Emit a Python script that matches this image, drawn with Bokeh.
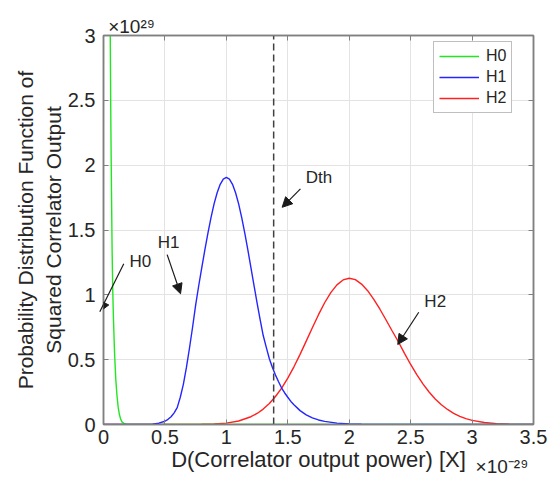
from bokeh.plotting import figure
from bokeh.models import (Range1d, LinearAxis, FixedTicker, Label, Arrow, NormalHead,
                          Legend, LegendItem)
from bokeh.embed import file_html
from bokeh.resources import INLINE

# ---------------- data (x in units of 1e-29, y in units of 1e29) ----------------
h0_x = [0.0, 0.02, 0.04, 0.05, 0.055, 0.06, 0.065, 0.07, 0.075, 0.08, 0.09, 0.10, 0.11,
        0.12, 0.13, 0.14, 0.15, 0.17, 0.19, 0.22, 3.5]
h0_y = [12.0, 8.0, 5.0, 3.6, 3.0, 2.3, 1.8, 1.35, 1.05, 0.85, 0.55, 0.35, 0.22,
        0.13, 0.075, 0.04, 0.02, 0.006, 0.001, 0.0, 0.0]

h1_x = [0.0, 0.35, 0.4, 0.45, 0.5, 0.525, 0.55, 0.575, 0.6, 0.625, 0.65, 0.675, 0.7, 0.725,
        0.75, 0.775, 0.8, 0.825, 0.85, 0.875, 0.9, 0.925, 0.95, 0.975, 1.0, 1.025, 1.05,
        1.075, 1.1, 1.125, 1.15, 1.175, 1.2, 1.225, 1.25, 1.275, 1.3, 1.325, 1.35, 1.375,
        1.4, 1.425, 1.45, 1.475, 1.5, 1.525, 1.55, 1.6, 1.65, 1.7, 1.75, 1.8, 1.9, 2.0,
        2.1, 2.2, 2.4, 3.5]
h1_y = [0.0, 0.0, 0.003, 0.01, 0.025, 0.04, 0.06, 0.09, 0.13, 0.21, 0.31, 0.44, 0.59, 0.75,
        0.92, 1.07, 1.21, 1.346, 1.476, 1.596, 1.701, 1.787, 1.852, 1.892, 1.905, 1.892,
        1.852, 1.787, 1.701, 1.596, 1.476, 1.346, 1.21, 1.073, 0.938, 0.808, 0.686, 0.595,
        0.507, 0.44, 0.381, 0.33, 0.281, 0.243, 0.21, 0.178, 0.153, 0.107, 0.074, 0.051,
        0.035, 0.024, 0.011, 0.005, 0.002, 0.0008, 0.0, 0.0]

h2_x = [0.0, 0.7, 0.8, 0.9, 1.0, 1.1, 1.2, 1.25, 1.3, 1.35, 1.4, 1.45, 1.5, 1.55, 1.6, 1.65,
        1.7, 1.75, 1.8, 1.85, 1.9, 1.95, 2.0, 2.05, 2.1, 2.15, 2.2, 2.25, 2.3, 2.35, 2.4,
        2.45, 2.5, 2.55, 2.6, 2.65, 2.7, 2.75, 2.8, 2.85, 2.9, 2.95, 3.0, 3.1, 3.2, 3.3,
        3.4, 3.5]
h2_y = [0.0, 0.0, 0.0015, 0.004, 0.011, 0.027, 0.06, 0.085, 0.119, 0.162, 0.216, 0.281,
        0.358, 0.445, 0.541, 0.643, 0.746, 0.847, 0.939, 1.017, 1.077, 1.115, 1.128, 1.117,
        1.083, 1.032, 0.965, 0.889, 0.806, 0.721, 0.638, 0.549, 0.463, 0.384, 0.313, 0.251,
        0.197, 0.152, 0.116, 0.086, 0.063, 0.045, 0.032, 0.015, 0.0067, 0.0028, 0.001,
        0.0004]

dth = 1.385
dth_x = [dth, dth]
dth_y = [0.0, 3.0]

x_ticks = [0, 0.5, 1, 1.5, 2, 2.5, 3, 3.5]
x_tick_labels = ["0", "0.5", "1", "1.5", "2", "2.5", "3", "3.5"]
y_ticks = [0, 0.5, 1, 1.5, 2, 2.5, 3]
y_tick_labels = ["0", "0.5", "1", "1.5", "2", "2.5", "3"]

x_label = "D(Correlator output power) [X]"
y_label = "Probability Distribution Function of\nSquared Correlator Output"
x_exp_text, x_exp_pos = "\u00d710\u207b\u00b2\u2079", 3.243
y_exp_text, y_exp_pos = "\u00d710\u00b2\u2079", 0.228

# annotation texts: (text, x, y)
notes = [("H0", 0.30, 1.26), ("H1", 0.53, 1.40), ("Dth", 1.753, 1.908), ("H2", 2.70, 0.945)]
# arrows: (x_start, y_start, x_end, y_end)
arrows = [(0.165, 1.24, -0.03, 0.87), (0.518, 1.31, 0.627, 1.008),
          (1.603, 1.817, 1.454, 1.675), (2.566, 0.866, 2.395, 0.617)]

FONT = "Liberation Sans"
TXT = "#262626"
AX = "#808080"

p = figure(width=555, height=484, x_range=Range1d(0, 3.5), y_range=Range1d(0, 3),
           output_backend="svg", toolbar_location=None,
           min_border_left=103, min_border_right=22, min_border_top=35, min_border_bottom=60)
p.background_fill_color = "white"
p.border_fill_color = "white"
p.outline_line_color = AX
p.outline_line_width = 1.5

for ax, ticks, labels in ((p.xaxis[0], x_ticks, x_tick_labels), (p.yaxis[0], y_ticks, y_tick_labels)):
    ax.ticker = FixedTicker(ticks=ticks)
    ax.major_label_overrides = {t: l for t, l in zip(ticks, labels)}
    ax.major_label_text_font = FONT
    ax.major_label_text_font_size = "20px"
    ax.major_label_text_color = TXT
    ax.major_tick_in = 5
    ax.major_tick_out = 0
    ax.minor_tick_line_color = None
    ax.axis_line_color = AX
    ax.axis_line_width = 1.5
    ax.major_tick_line_color = AX
    ax.axis_label_text_font = FONT
    ax.axis_label_text_font_style = "normal"
    ax.axis_label_text_color = TXT

p.xaxis[0].axis_label = x_label
p.xaxis[0].axis_label_text_font_size = "22px"
p.xaxis[0].major_label_standoff = 5
p.xaxis[0].axis_label_standoff = 0
p.yaxis[0].axis_label = y_label
p.yaxis[0].axis_label_text_font_size = "21px"
p.yaxis[0].axis_label_standoff = 0
p.yaxis[0].major_label_standoff = 8

# MATLAB-style box: ticks on top and right as well
for loc, ticks in (("above", x_ticks), ("right", y_ticks)):
    a = LinearAxis(ticker=FixedTicker(ticks=ticks), major_label_text_font_size="0px",
                   major_label_text_color=None,
                   major_tick_in=5, major_tick_out=0, minor_tick_line_color=None,
                   axis_line_color=AX, axis_line_width=1.5, major_tick_line_color=AX,
                   major_label_standoff=0)
    p.add_layout(a, loc)

# exponent labels ("x10^29" on top-left, "x10^-29" on bottom-right)
top_exp = LinearAxis(ticker=FixedTicker(ticks=[y_exp_pos]),
                     major_label_overrides={y_exp_pos: y_exp_text},
                     major_label_text_font=FONT, major_label_text_font_size="19px",
                     major_label_text_color=TXT, axis_line_color=None,
                     major_tick_line_color=None, minor_tick_line_color=None,
                     major_label_standoff=-7)
p.add_layout(top_exp, "above")
bot_exp = LinearAxis(ticker=FixedTicker(ticks=[x_exp_pos]),
                     major_label_overrides={x_exp_pos: x_exp_text},
                     major_label_text_font=FONT, major_label_text_font_size="19px",
                     major_label_text_color=TXT, axis_line_color=None,
                     major_tick_line_color=None, minor_tick_line_color=None,
                     major_label_standoff=-25)
p.add_layout(bot_exp, "below")

p.xgrid.ticker = FixedTicker(ticks=x_ticks)
p.ygrid.ticker = FixedTicker(ticks=y_ticks)
p.xgrid.grid_line_color = "#e3e3e3"
p.ygrid.grid_line_color = "#e3e3e3"

r2 = p.line(h2_x, h2_y, line_color="#ff2020", line_width=1.4)
r0 = p.line(h0_x, h0_y, line_color="#22e622", line_width=1.4)
r1 = p.line(h1_x, h1_y, line_color="#2525ff", line_width=1.4)
p.line(dth_x, dth_y, line_color="#404040", line_width=1.5, line_dash="7 4")

legend = Legend(items=[LegendItem(label="H0", renderers=[r0]),
                       LegendItem(label="H1", renderers=[r1]),
                       LegendItem(label="H2", renderers=[r2])],
                location=(330, 311), label_text_font=FONT, label_text_font_size="16px",
                label_text_color=TXT, glyph_width=40, glyph_height=18, label_height=18,
                spacing=3, padding=5, margin=0, label_standoff=7,
                border_line_color=AX, border_line_width=1.2, background_fill_color="white",
                background_fill_alpha=1.0)
p.add_layout(legend, "center")

for t, x, y in notes:
    p.add_layout(Label(x=x, y=y, text=t, text_font=FONT, text_font_size="17px",
                       text_color=TXT, text_align="center", text_baseline="middle"))
for xs, ys, xe, ye in arrows:
    p.add_layout(Arrow(x_start=xs, y_start=ys, x_end=xe, y_end=ye, line_color="#1a1a1a",
                       line_width=1.2,
                       end=NormalHead(size=10, fill_color="#1a1a1a", line_color="#1a1a1a")))

open("out.html", "w").write(file_html(p, INLINE))
